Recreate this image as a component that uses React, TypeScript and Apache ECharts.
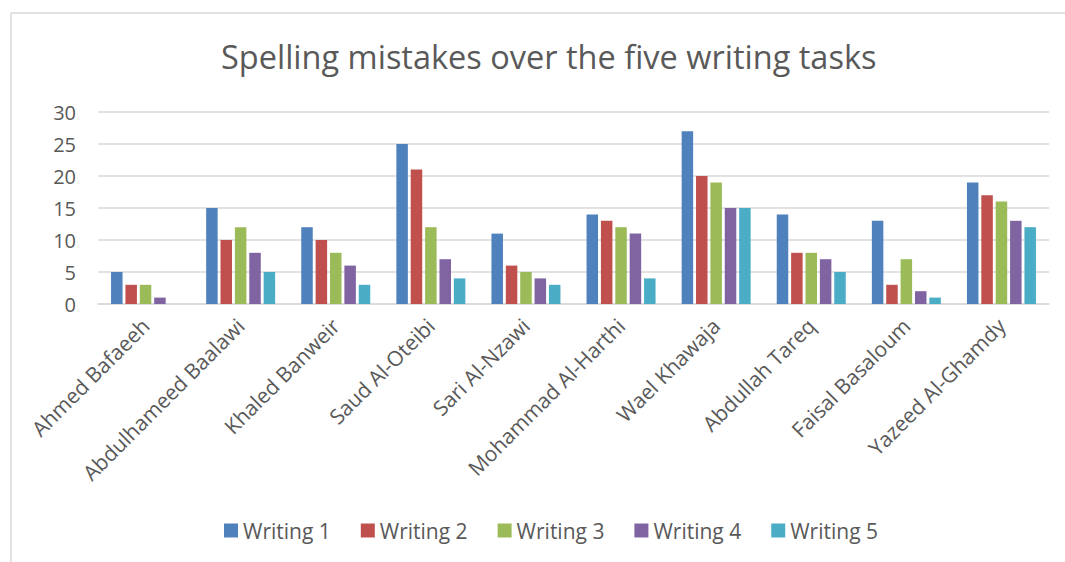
import React, { useEffect, useRef } from "react";
import * as echarts from "echarts";

const students = [
  "Ahmed Bafaeeh",
  "Abdulhameed Baalawi",
  "Khaled Banweir",
  "Saud Al-Oteibi",
  "Sari Al-Nzawi",
  "Mohammad Al-Harthi",
  "Wael Khawaja",
  "Abdullah Tareq",
  "Faisal Basaloum",
  "Yazeed Al-Ghamdy",
];

const seriesNames = ["Writing 1", "Writing 2", "Writing 3", "Writing 4", "Writing 5"];

const writing1 = [5, 15, 12, 25, 11, 14, 27, 14, 13, 19];
const writing2 = [3, 10, 10, 21, 6, 13, 20, 8, 3, 17];
const writing3 = [3, 12, 8, 12, 5, 12, 19, 8, 7, 16];
const writing4 = [1, 8, 6, 7, 4, 11, 15, 7, 2, 13];
const writing5 = [0, 5, 3, 4, 3, 4, 15, 5, 1, 12];

const colors = ["#4F81BD", "#C0504D", "#9BBB59", "#8064A2", "#4BACC6"];

const FONT = "'Open Sans', 'Noto Sans', sans-serif";

export default function App() {
  const ref = useRef<HTMLDivElement>(null);

  useEffect(() => {
    if (!ref.current) return;
    const chart = echarts.init(ref.current, undefined, { renderer: "svg" });
    const data = [writing1, writing2, writing3, writing4, writing5];
    chart.setOption({
      animation: false,
      backgroundColor: "#ffffff",
      title: {
        text: "Spelling mistakes over the five writing tasks",
        left: 216,
        top: 35,
        textStyle: {
          fontFamily: FONT,
          fontSize: 32.5,
          fontWeight: "normal",
          color: "#595959",
        },
      },
      graphic: [
        {
          type: "line",
          shape: { x1: 11, y1: 13, x2: 1065, y2: 13 },
          style: { stroke: "#d9d9d9", lineWidth: 1.5 },
          silent: true,
        },
        {
          type: "line",
          shape: { x1: 11, y1: 13, x2: 11, y2: 562 },
          style: { stroke: "#d9d9d9", lineWidth: 1.5 },
          silent: true,
        },
      ],
      legend: {
        bottom: 16,
        left: 219,
        itemWidth: 14,
        itemHeight: 14,
        itemGap: 30,
        icon: "rect",
        textStyle: { fontFamily: FONT, fontSize: 21, color: "#595959" },
        data: seriesNames,
      },
      grid: { left: 98, right: 16, top: 112, bottom: 258, containLabel: false },
      xAxis: {
        type: "category",
        data: students,
        axisLine: { lineStyle: { color: "#d9d9d9", width: 1.5 } },
        axisTick: { show: false },
        axisLabel: {
          rotate: 45,
          interval: 0,
          margin: 18,
          fontFamily: FONT,
          fontSize: 21,
          color: "#595959",
        },
      },
      yAxis: {
        type: "value",
        min: 0,
        max: 30,
        interval: 5,
        axisLine: { show: false },
        axisTick: { show: false },
        splitLine: { lineStyle: { color: "#d9d9d9", width: 1.5 } },
        axisLabel: {
          margin: 22,
          fontFamily: FONT,
          fontSize: 20,
          color: "#595959",
        },
      },
      series: seriesNames.map((name, i) => ({
        name,
        type: "bar",
        data: data[i],
        barWidth: 11.5,
        barGap: "25%",
        itemStyle: { color: colors[i] },
      })),
    });
    return () => chart.dispose();
  }, []);

  return (
    <div
      ref={ref}
      style={{ position: "fixed", left: 0, top: 0, width: 1065, height: 562 }}
    />
  );
}
